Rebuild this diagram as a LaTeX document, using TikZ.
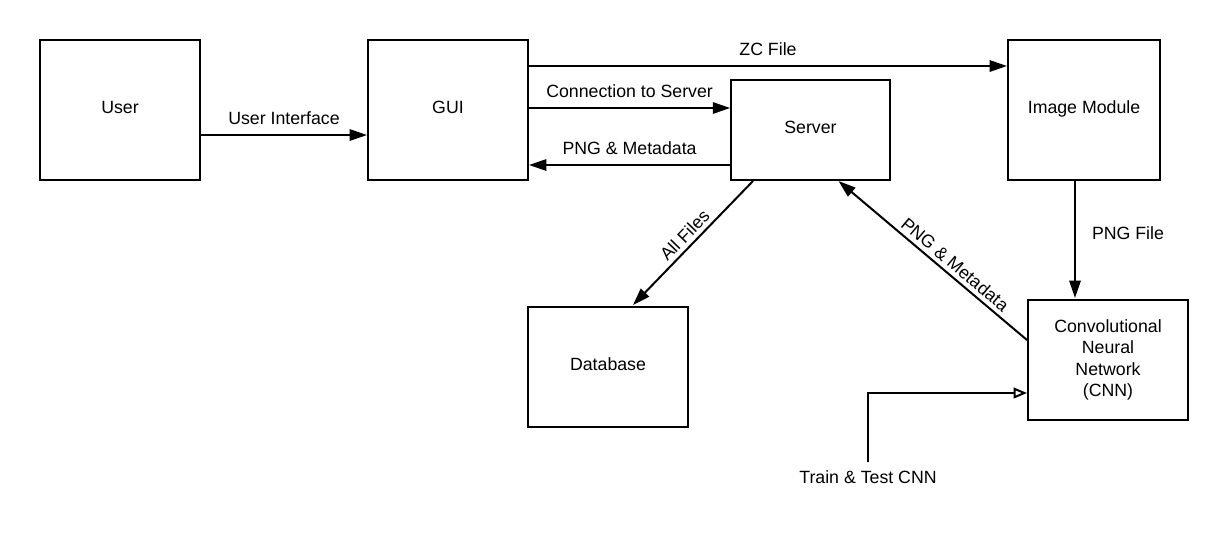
\documentclass[tikz,border=0pt]{standalone}
\usepackage{fontspec}
\setmainfont{Liberation Sans}
\usetikzlibrary{arrows.meta,calc}
\begin{document}
\begin{tikzpicture}[x=0.75pt,y=-0.75pt,
  font=\fontsize{13.3}{16}\selectfont,
  box/.style={draw, line width=1.5pt, rectangle, inner sep=0pt, align=center},
  onebox/.style={box, text depth=4pt},
  arr/.style={line width=1.5pt, -{Triangle[length=13pt,width=8.5pt]}},
  openarr/.style={line width=1.5pt, -{Triangle[open,length=10pt,width=8pt]}},
  lbl/.style={inner sep=3pt},
  hlbl/.style={inner sep=3pt, above, yshift=3.8pt}
]
\useasboundingbox (0,0) rectangle (1228,540);
\node[onebox, minimum width=120pt, minimum height=105pt] (user) at (120,110) {User};
\node[onebox, minimum width=120pt, minimum height=105pt] (gui) at (448,110) {GUI};
\node[onebox, minimum width=114pt, minimum height=105pt] (img) at (1084,110) {Image Module};
\node[onebox, minimum width=119pt, minimum height=75pt] (server) at (810.5,130) {Server};
\node[onebox, minimum width=120pt, minimum height=90pt] (db) at (608,367) {Database};
\node[box, minimum width=120pt, minimum height=90pt] (cnn) at (1108,360) {Convolutional\\Neural\\Network\\(CNN)};
\coordinate (train) at (868,462);

\draw[arr] ($(user.east)+(0,25)$) -- node[hlbl] {User Interface} ($(gui.west)+(0,25)$);
\draw[arr] ($(gui.east)+(0,-44)$) -- node[hlbl] {ZC File} ($(img.west)+(0,-44)$);
\draw[arr] ($(gui.east)+(0,-2)$) -- node[hlbl] {Connection to Server} ($(server.west)+(0,-22)$);
\draw[arr] ($(server.west)+(0,35)$) -- node[hlbl] {PNG \& Metadata} ($(gui.east)+(0,55)$);
\draw[arr] ($(server.south)+(-57.5,0)$) -- node[lbl, midway, sloped, above] {All Files} ($(db.north)+(25,-1)$);
\draw[arr] ($(cnn.west)+(0,-20)$) -- node[lbl, pos=0.42, sloped, above] {PNG \& Metadata} ($(server.south)+(28,0)$);
\draw[arr] ($(img.south)+(-9,0)$) -- node[lbl, right, inner sep=12pt, yshift=5pt] {PNG File} ($(cnn.north)+(-33,-1)$);
\draw[openarr] (train) |- ($(cnn.west)+(0,33)$);
\node[anchor=north, inner sep=0pt] (trainlbl) at (868,470) {Train \& Test CNN};
\end{tikzpicture}
\end{document}
